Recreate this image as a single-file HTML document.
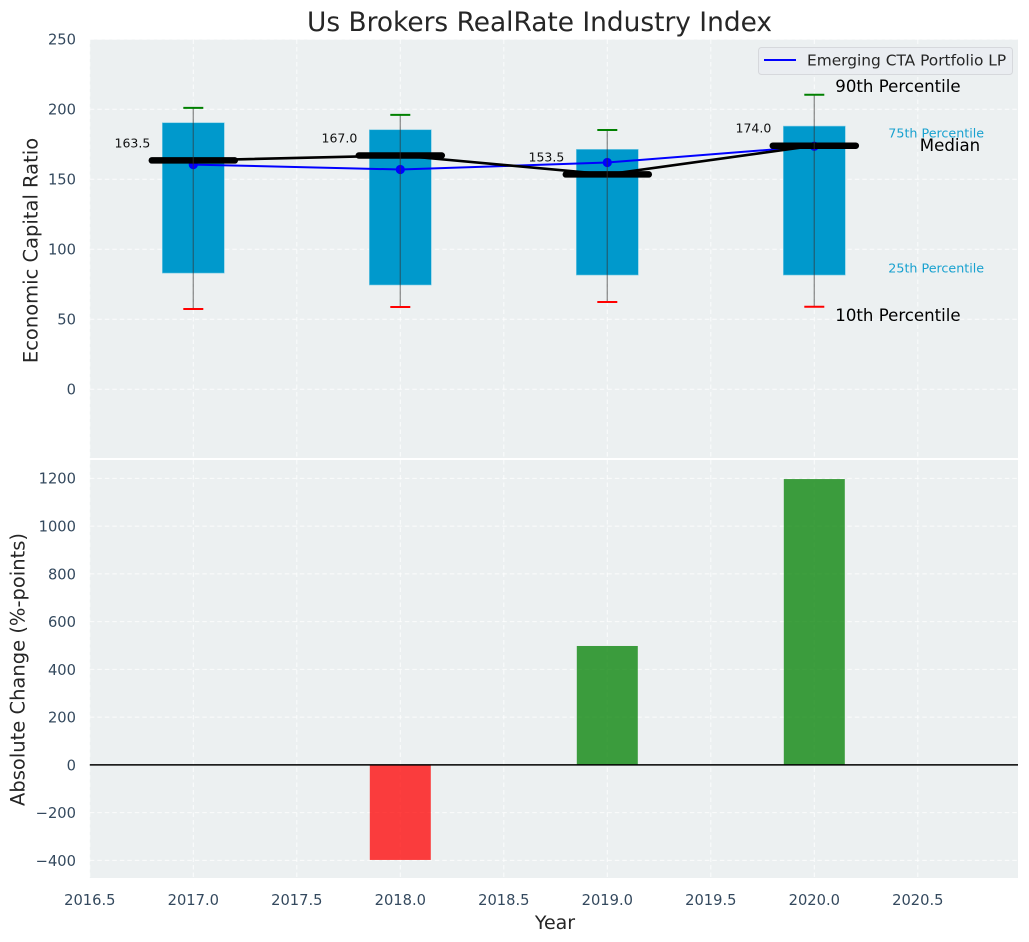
<!DOCTYPE html>
<html lang="en">
<head>
<meta charset="utf-8">
<title>Us Brokers RealRate Industry Index</title>
<style>
html,body{margin:0;padding:0;background:#fff;width:1029px;height:942px;overflow:hidden}
svg{display:block;font-family:"DejaVu Sans","Liberation Sans",sans-serif}
</style>
</head>
<body>
<svg id="chart" xmlns="http://www.w3.org/2000/svg" width="1029" height="942" viewBox="0 0 1029 942"></svg>
<script>
const years = [2017, 2018, 2019, 2020];
const p90 = [201, 196, 185.2, 210.4];
const p75 = [190.4, 185.4, 171.4, 188];
const medians = [163.5, 167, 153.5, 174];
const p25 = [83, 74.5, 81.6, 81.6];
const p10 = [57.4, 58.8, 62.4, 59];
const portfolio = [160.5, 157, 162, 173.6];
const changes = [0, -398, 498, 1197];
const medianLabels = ["163.5", "167.0", "153.5", "174.0"];
const xTicks = [2016.5, 2017, 2017.5, 2018, 2018.5, 2019, 2019.5, 2020, 2020.5];
const xTickLabels = ["2016.5", "2017.0", "2017.5", "2018.0", "2018.5", "2019.0", "2019.5", "2020.0", "2020.5"];
const topTicks = [0, 50, 100, 150, 200, 250];
const bottomTicks = [-400, -200, 0, 200, 400, 600, 800, 1000, 1200];
const bottomTickLabels = ["\u2212400", "\u2212200", "0", "200", "400", "600", "800", "1000", "1200"];

const svg = document.getElementById('chart');
const NS = 'http://www.w3.org/2000/svg';
const L = 89.8, R = 1018, T1 = 39.5, B1 = 458, T2 = 460, B2 = 878;
const x = v => 193.3 + (v - 2017) * 207;
const yTop = v => 389.3 - v * 1.4;
const yBot = v => 764.9 - v * 0.2388;

function mk(tag, attrs, text) {
  const e = document.createElementNS(NS, tag);
  for (const k in attrs) e.setAttribute(k, attrs[k]);
  if (text !== undefined) e.textContent = text;
  svg.appendChild(e);
  return e;
}
let el;

function grid(tv, yf, top, bot, prefix) {
  xTicks.forEach(t => {
    el = mk('line', {x1: x(t), x2: x(t), y1: top, y2: bot, stroke: '#fff', 'stroke-width': 1, 'stroke-dasharray': '4.5,3', opacity: .8});
    
    
  });
  tv.forEach(t => {
    el = mk('line', {x1: L, x2: R, y1: yf(t), y2: yf(t), stroke: '#fff', 'stroke-width': 1, 'stroke-dasharray': '4.5,3', opacity: .8});
    
    
  });
}

// panels
el = mk('rect', {x: L, y: T1, width: R - L, height: B1 - T1, fill: '#ecf0f1'});


el = mk('rect', {x: L, y: T2, width: R - L, height: B2 - T2, fill: '#ecf0f1'});



grid(topTicks, yTop, T1, B1, 'top');
grid(bottomTicks, yBot, T2, B2, 'bottom');

// boxes
years.forEach((yr, i) => {
  el = mk('rect', {x: x(yr) - 31, y: yTop(p75[i]), width: 62, height: yTop(p25[i]) - yTop(p75[i]), fill: '#0099cc', stroke: '#7fcce5', 'stroke-width': .6});
  
  
});

// portfolio line and markers
el = mk('polyline', {points: years.map((yr, i) => x(yr) + ',' + yTop(portfolio[i])).join(' '), fill: 'none', stroke: '#0000ff', 'stroke-width': 2});


years.forEach((yr, i) => {
  el = mk('circle', {cx: x(yr), cy: yTop(portfolio[i]), r: 4.6, fill: '#0000ff'});
  
  
});

// median connector
el = mk('polyline', {points: years.map((yr, i) => x(yr) + ',' + yTop(medians[i])).join(' '), fill: 'none', stroke: '#000', 'stroke-width': 2.6});



years.forEach((yr, i) => {
  el = mk('line', {x1: x(yr) - 41.5, x2: x(yr) + 41.5, y1: yTop(medians[i]), y2: yTop(medians[i]), stroke: '#000', 'stroke-width': 6.5, 'stroke-linecap': 'round'});
  
  

  el = mk('line', {x1: x(yr), x2: x(yr), y1: yTop(p90[i]), y2: yTop(p10[i]), stroke: '#333', 'stroke-opacity': .5, 'stroke-width': 1.4});
  
  

  el = mk('line', {x1: x(yr) - 10, x2: x(yr) + 10, y1: yTop(p90[i]), y2: yTop(p90[i]), stroke: '#008000', 'stroke-width': 2});
  
  

  el = mk('line', {x1: x(yr) - 10, x2: x(yr) + 10, y1: yTop(p10[i]), y2: yTop(p10[i]), stroke: '#ff0000', 'stroke-width': 2});
  
  

  el = mk('text', {x: x(yr) - 43, y: yTop(medians[i]) - 13, 'text-anchor': 'end', 'font-size': 12.5, fill: '#111'}, medianLabels[i]);
  
  
});

// last-box annotations
const n = years.length - 1;
const xn = x(years[n]);
el = mk('text', {x: xn + 21, y: yTop(p90[n]) - 2.5, 'font-size': 16.6, fill: '#000'}, '90th Percentile');


el = mk('text', {x: xn + 21, y: yTop(p10[n]) + 14.5, 'font-size': 16.6, fill: '#000'}, '10th Percentile');


el = mk('text', {x: xn + 74, y: yTop(p75[n]) + 11.5, 'font-size': 12.7, fill: '#0099cc', opacity: .9}, '75th Percentile');


el = mk('text', {x: xn + 74, y: yTop(p25[n]) - 2.5, 'font-size': 12.7, fill: '#0099cc', opacity: .9}, '25th Percentile');


el = mk('text', {x: xn + 105.5, y: yTop(medians[n]) + 5.5, 'font-size': 16.6, fill: '#000'}, 'Median');



// change bars
years.forEach((yr, i) => {
  if (changes[i] === 0) return;
  const y0 = Math.min(yBot(0), yBot(changes[i]));
  const h = Math.abs(yBot(changes[i]) - yBot(0));
  el = mk('rect', {x: x(yr) - 30.5, y: y0, width: 61, height: h, fill: changes[i] < 0 ? '#ff0000' : '#008000', 'fill-opacity': .75});
  
  
});
el = mk('line', {x1: L, x2: R, y1: yBot(0), y2: yBot(0), stroke: '#000', 'stroke-width': 1.5});



// panel separator
el = mk('rect', {x: L, y: 458, width: R - L, height: 2, fill: '#fff'});



// tick labels
topTicks.forEach(t => {
  el = mk('text', {x: 76, y: yTop(t) + 5.4, 'text-anchor': 'end', 'font-size': 14.7, fill: '#34495e'}, String(t));
  
  
});
bottomTicks.forEach((t, i) => {
  el = mk('text', {x: 76, y: yBot(t) + 5.4, 'text-anchor': 'end', 'font-size': 14.7, fill: '#34495e'}, bottomTickLabels[i]);
  
  
});
xTicks.forEach((t, i) => {
  el = mk('text', {x: x(t), y: 905, 'text-anchor': 'middle', 'font-size': 14.7, fill: '#34495e'}, xTickLabels[i]);
  
  
});

// titles
el = mk('text', {x: 539.5, y: 31, 'text-anchor': 'middle', 'font-size': 26.4, fill: '#262626'}, 'Us Brokers RealRate Industry Index');


el = mk('text', {x: 555, y: 929, 'text-anchor': 'middle', 'font-size': 19, fill: '#262626'}, 'Year');


el = mk('text', {transform: 'translate(37.5,250.5) rotate(-90)', 'text-anchor': 'middle', 'font-size': 19.5, fill: '#262626'}, 'Economic Capital Ratio');


el = mk('text', {transform: 'translate(24.5,669.5) rotate(-90)', 'text-anchor': 'middle', 'font-size': 19.5, fill: '#262626'}, 'Absolute Change (%-points)');



// legend
el = mk('rect', {x: 758.5, y: 47.5, width: 254, height: 27, rx: 3, fill: '#eaecf1', 'fill-opacity': .85, stroke: '#d6d8dc', 'stroke-width': 1});


el = mk('line', {x1: 764, x2: 796, y1: 60, y2: 60, stroke: '#0000ff', 'stroke-width': 2});


el = mk('text', {x: 807, y: 65.5, 'font-size': 15.4, fill: '#262626'}, 'Emerging CTA Portfolio LP');


</script>
</body>
</html>
